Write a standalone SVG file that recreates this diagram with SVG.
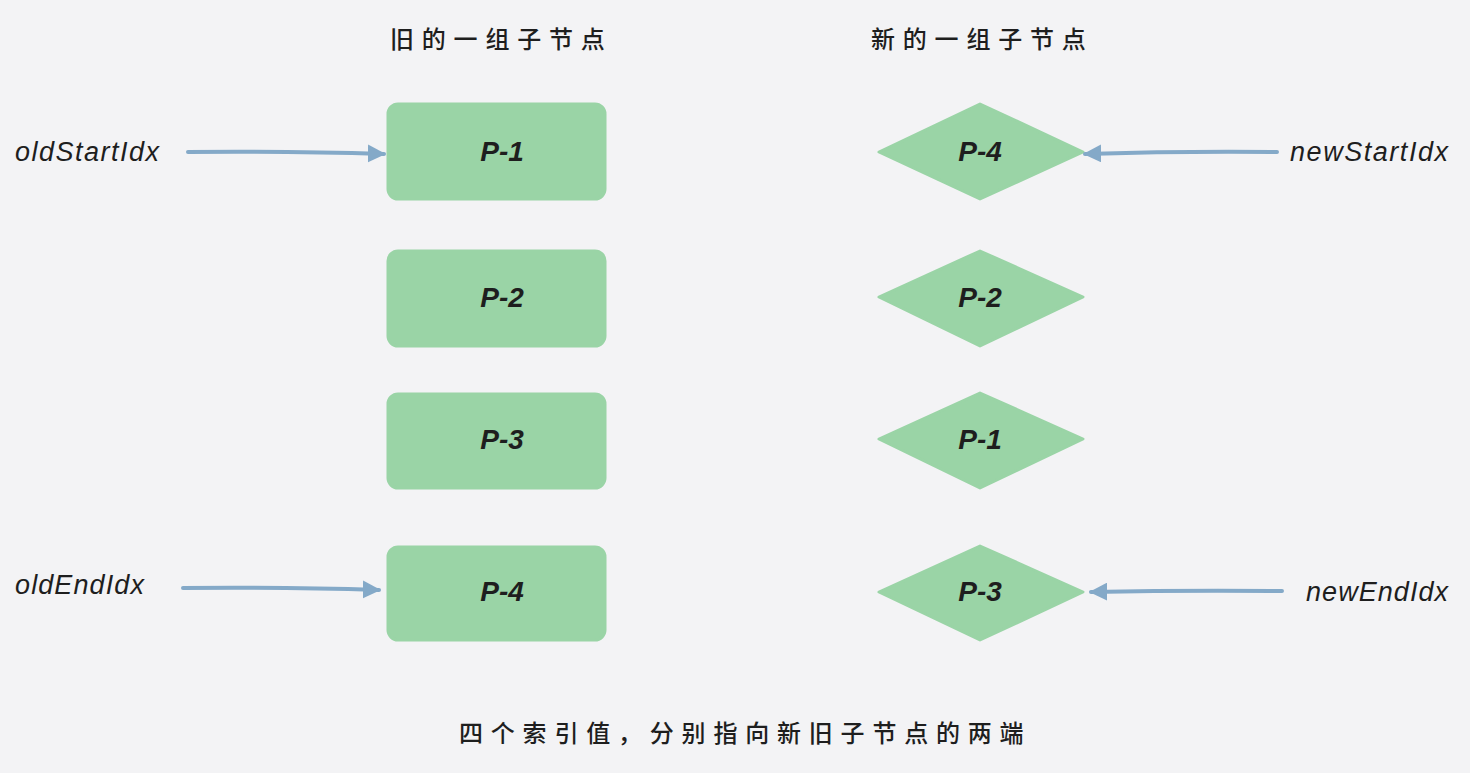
<svg xmlns="http://www.w3.org/2000/svg" width="1470" height="773" viewBox="0 0 1470 773">
<defs>
<style>
.bg{fill:#f3f3f5}
.node{fill:#9ad4a6;stroke:#9ad4a6;stroke-width:3;stroke-linejoin:round}
.nt{font-family:"Liberation Sans",sans-serif;font-weight:bold;font-style:italic;font-size:28px;fill:#1e1e1e;text-anchor:middle}
.lb{font-family:"Liberation Sans",sans-serif;font-style:italic;font-size:27px;fill:#1e1e1e}
.cn{font-family:"Noto Sans CJK SC",sans-serif;font-size:24px;font-weight:500;fill:#1e1e1e;letter-spacing:7.8px}
.ar{stroke:#84a9c8;stroke-width:4;fill:none;stroke-linecap:round;marker-end:url(#ah)}
</style>
<marker id="ah" viewBox="0 0 10 10" refX="9" refY="5" markerWidth="4.5" markerHeight="4.5" orient="auto" markerUnits="strokeWidth">
<path d="M0,0 L10,5 L0,10 Z" fill="#84a9c8"/>
</marker>
</defs>
<rect class="bg" x="0" y="0" width="1470" height="773"/>
<text class="cn" x="390" y="48">旧的一组子节点</text>
<text class="cn" x="871" y="48">新的一组子节点</text>
<text class="cn" x="459" y="742">四个索引值，分别指向新旧子节点的两端</text>
<g id="old1"><rect class="node" x="388" y="104" width="217" height="95" rx="10"/><text class="nt" x="502" y="161">P-1</text></g>
<g id="old2"><rect class="node" x="388" y="251" width="217" height="95" rx="10"/><text class="nt" x="502" y="307">P-2</text></g>
<g id="old3"><rect class="node" x="388" y="394" width="217" height="94" rx="10"/><text class="nt" x="502" y="449">P-3</text></g>
<g id="old4"><rect class="node" x="388" y="547" width="217" height="93" rx="10"/><text class="nt" x="502" y="601">P-4</text></g>
<g id="new1"><path class="node" d="M980,104 L1083,152 L980,199 L879,152 Z"/><text class="nt" x="980" y="161">P-4</text></g>
<g id="new2"><path class="node" d="M980,251 L1083,297 L980,346 L879,297 Z"/><text class="nt" x="980" y="307">P-2</text></g>
<g id="new3"><path class="node" d="M980,393 L1083,439 L980,488 L879,439 Z"/><text class="nt" x="980" y="449">P-1</text></g>
<g id="new4"><path class="node" d="M980,546 L1083,592 L980,640 L879,592 Z"/><text class="nt" x="980" y="601">P-3</text></g>
<g id="labels">
<text class="lb" x="15" y="161" textLength="144">oldStartIdx</text>
<text class="lb" x="15" y="594" textLength="129">oldEndIdx</text>
<text class="lb" x="1290" y="161" textLength="158">newStartIdx</text>
<text class="lb" x="1306" y="601" textLength="142">newEndIdx</text>
</g>
<g id="connectors">
<path class="ar" d="M188,152 Q290,151 384,154"/>
<path class="ar" d="M183,588 Q285,587 379,590"/>
<path class="ar" d="M1277,152 Q1180,151 1085,154"/>
<path class="ar" d="M1282,591 Q1185,590 1091,592"/>
</g>
</svg>
